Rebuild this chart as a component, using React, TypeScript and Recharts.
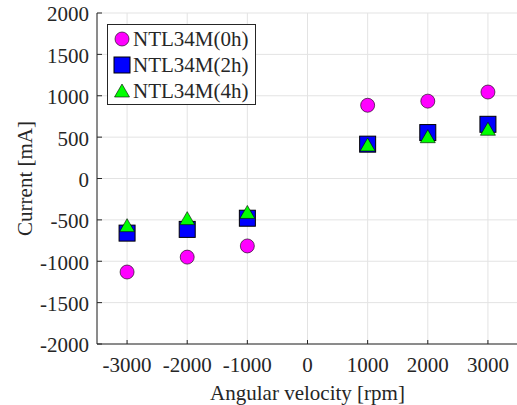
import React from 'react';
import { ScatterChart, Scatter, XAxis, YAxis, CartesianGrid, Legend } from 'recharts';

const speeds = [-3000, -2000, -1000, 1000, 2000, 3000];
const current0h = [-1130, -950, -815, 885, 935, 1045];
const current2h = [-660, -615, -480, 415, 555, 655];
const current4h = [-570, -485, -410, 405, 505, 595];
const xTicks = [-3000, -2000, -1000, 0, 1000, 2000, 3000];
const yTicks = [-2000, -1500, -1000, -500, 0, 500, 1000, 1500, 2000];
const seriesNames = ['NTL34M(0h)', 'NTL34M(2h)', 'NTL34M(4h)'];

const FONT = "'Liberation Serif', 'Times New Roman', serif";
const AX = '#262626';
const GRID = '#e3e3e3';

const toPts = (ys: number[]) => speeds.map((x, i) => ({ x, y: ys[i] }));

const CircleShape = (p: any) => (
  <circle cx={p.cx} cy={p.cy} r={7} fill="#ff00ff" stroke="#000" strokeWidth={0.6} />
);
const SquareShape = (p: any) => (
  <rect x={p.cx - 8} y={p.cy - 8} width={16} height={16} fill="#0000ff" stroke="#000" strokeWidth={1} />
);
const TriShape = (p: any) => (
  <polygon
    points={`${p.cx},${p.cy - 7} ${p.cx - 7.5},${p.cy + 6} ${p.cx + 7.5},${p.cy + 6}`}
    fill="#00ff00"
    stroke="#000"
    strokeWidth={0.6}
  />
);

const XTickBottom = (p: any) => {
  const m = 13;
  const axisY = p.y - m;
  return (
    <g>
      <line x1={p.x} x2={p.x} y1={axisY} y2={axisY - 4} stroke={AX} strokeWidth={1} />
      <text x={p.x} y={p.y} dy="0.71em" textAnchor="middle" fill={AX} style={{ fontSize: 21, fontFamily: FONT }}>
        {p.payload.value}
      </text>
    </g>
  );
};
const XTickTop = (p: any) => {
  const axisY = p.y;
  return <line x1={p.x} x2={p.x} y1={axisY} y2={axisY + 4} stroke={AX} strokeWidth={1} />;
};
const YTickLeft = (p: any) => {
  const m = 8;
  const axisX = p.x + m;
  return (
    <g>
      <line x1={axisX} x2={axisX + 5} y1={p.y} y2={p.y} stroke={AX} strokeWidth={1} />
      <text x={p.x} y={p.y + 1} dy="0.355em" textAnchor="end" fill={AX} style={{ fontSize: 21, fontFamily: FONT }}>
        {p.payload.value}
      </text>
    </g>
  );
};
const YTickRight = (p: any) => {
  const axisX = p.x;
  return <line x1={axisX} x2={axisX - 5} y1={p.y} y2={p.y} stroke={AX} strokeWidth={1} />;
};

const LegendMarker = ({ i }: { i: number }) => (
  <svg width={18} height={18} style={{ display: 'block' }}>
    {i === 0 && <CircleShape cx={9} cy={9} />}
    {i === 1 && <SquareShape cx={9} cy={9} />}
    {i === 2 && <TriShape cx={9} cy={9} />}
  </svg>
);

const LegendBox = () => (
  <div
    style={{
      border: `1px solid ${AX}`,
      background: '#fff',
      width: 147,
      height: 78,
      boxSizing: 'content-box',
      fontFamily: FONT,
      fontSize: 21,
      color: AX,
      paddingTop: 1,
    }}
  >
    {seriesNames.map((n, i) => (
      <div key={n} style={{ display: 'flex', alignItems: 'center', height: 26, paddingLeft: 5 }}>
        <LegendMarker i={i} />
        <span style={{ marginLeft: 2, lineHeight: '26px' }}>{n}</span>
      </div>
    ))}
  </div>
);

export default function App() {
  return (
    <div style={{ position: 'absolute', left: 0, top: 0, width: 517, height: 405, background: '#fff' }}>
      <ScatterChart width={517} height={405} margin={{ top: 13, right: -1, left: 0, bottom: 0 }}>
        <CartesianGrid stroke={GRID} strokeWidth={1} />
        <XAxis
          type="number"
          dataKey="x"
          domain={[-3500, 3500]}
          ticks={xTicks}
          height={61}
          axisLine={{ stroke: AX, strokeWidth: 1 }}
          tickLine={false}
          tickSize={0}
          tickMargin={13}
          tick={<XTickBottom />}
          interval={0}
          label={(props: any) => {
            const vb = props.viewBox;
            return (
              <text x={vb.x + vb.width / 2} y={400} textAnchor="middle" fill={AX} style={{ fontSize: 21, fontFamily: FONT }}>
                Angular velocity [rpm]
              </text>
            );
          }}
        />
        <XAxis
          xAxisId="top"
          orientation="top"
          type="number"
          dataKey="x"
          domain={[-3500, 3500]}
          ticks={xTicks}
          height={0}
          axisLine={{ stroke: AX, strokeWidth: 1 }}
          tickLine={false}
          tickSize={0}
          tickMargin={0}
          tick={<XTickTop />}
          interval={0}
        />
        <YAxis
          type="number"
          dataKey="y"
          domain={[-2000, 2000]}
          ticks={yTicks}
          width={97}
          axisLine={{ stroke: AX, strokeWidth: 1 }}
          tickLine={false}
          tickSize={0}
          tickMargin={8}
          tick={<YTickLeft />}
          interval={0}
          label={(props: any) => {
            const vb = props.viewBox;
            const cy = vb.y + vb.height / 2;
            return (
              <text
                x={32}
                y={cy}
                transform={`rotate(-90, 32, ${cy})`}
                textAnchor="middle"
                fill={AX}
                style={{ fontSize: 21, fontFamily: FONT }}
              >
                Current [mA]
              </text>
            );
          }}
        />
        <YAxis
          yAxisId="right"
          orientation="right"
          type="number"
          dataKey="y"
          domain={[-2000, 2000]}
          ticks={yTicks}
          width={0}
          axisLine={{ stroke: AX, strokeWidth: 1 }}
          tickLine={false}
          tickSize={0}
          tickMargin={0}
          tick={<YTickRight />}
          interval={0}
        />
        <Legend
          layout="vertical"
          align="center"
          verticalAlign="middle"
          wrapperStyle={{ left: 107, top: 24, width: 'auto', height: 'auto' }}
          content={() => <LegendBox />}
        />
        <Scatter name={seriesNames[0]} data={toPts(current0h)} shape={<CircleShape />} isAnimationActive={false} />
        <Scatter name={seriesNames[1]} data={toPts(current2h)} shape={<SquareShape />} isAnimationActive={false} />
        <Scatter name={seriesNames[2]} data={toPts(current4h)} shape={<TriShape />} isAnimationActive={false} />
      </ScatterChart>
    </div>
  );
}
